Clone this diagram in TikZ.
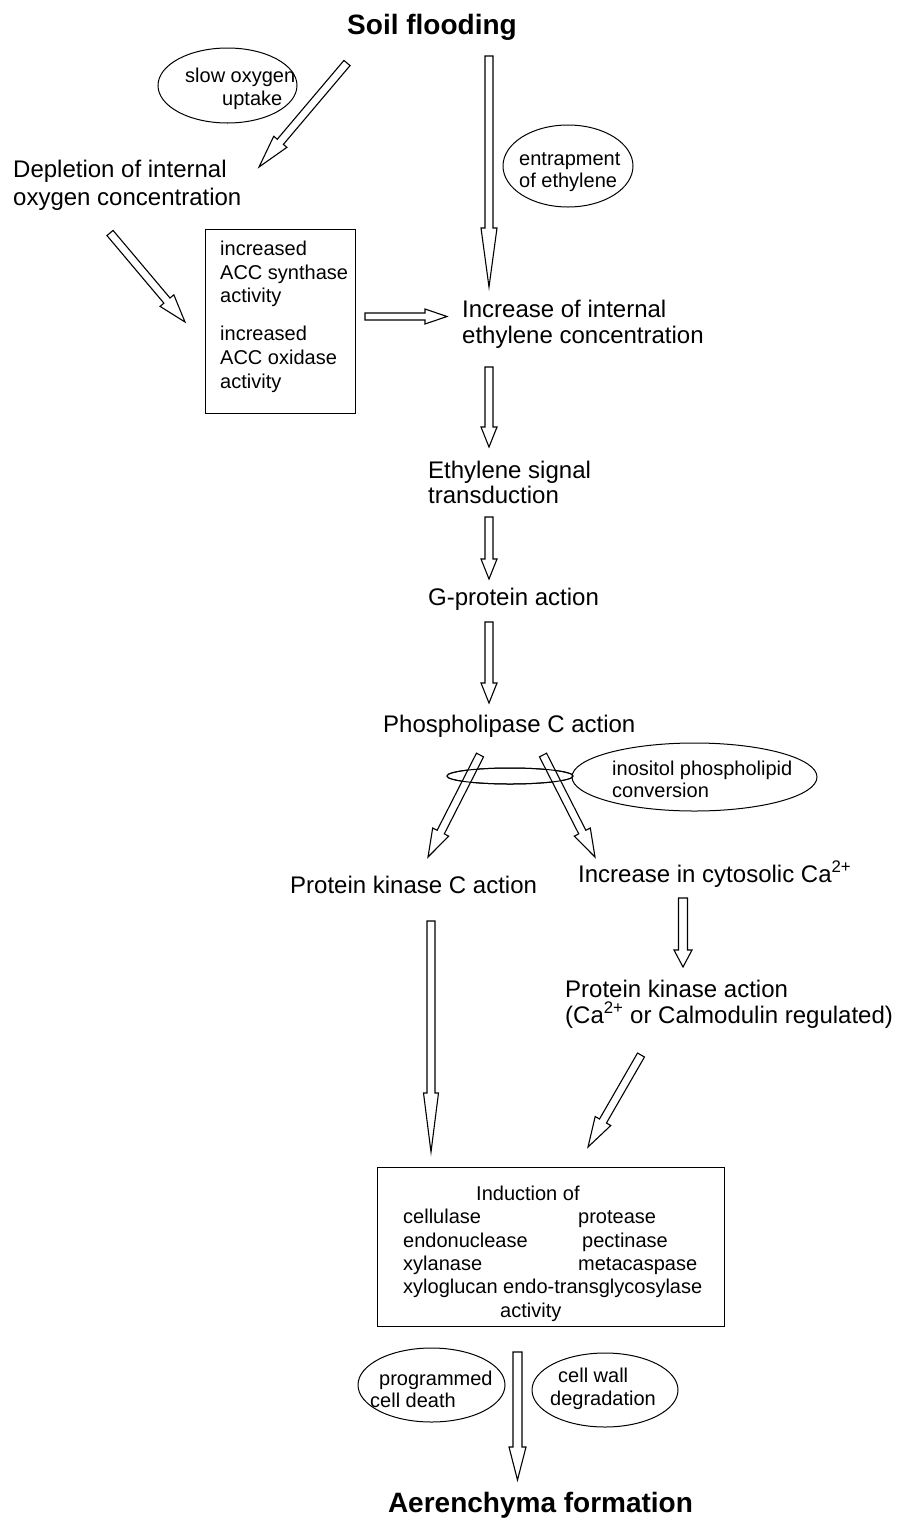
\documentclass[tikz,border=0pt]{standalone}
\usepackage{fontspec}
\setmainfont{Liberation Sans}
\usetikzlibrary{calc,shapes.geometric}
\newcommand\harrow[5]{%
  \coordinate (hA) at (#1); \coordinate (hB) at (#2);
  \coordinate (hH) at ($(hB)!#5!(hA)$);
  \draw[hollowarrow] ($(hA)!#3!90:(hB)$) -- ($(hH)!#3!-90:(hA)$) -- ($(hH)!#4!-90:(hA)$) -- (hB)
     -- ($(hH)!#4!90:(hA)$) -- ($(hH)!#3!90:(hA)$) -- ($(hA)!#3!-90:(hB)$) -- cycle;}
\tikzset{
  hollowarrow/.style={draw=black,fill=white,line width=1.1pt,line join=miter},
  big/.style={font=\fontsize{24}{28}\selectfont,inner sep=0pt,anchor=base west},
  small/.style={font=\fontsize{20}{23}\selectfont,inner sep=0pt,anchor=base west},
  title/.style={font=\bfseries\fontsize{28}{32}\selectfont,inner sep=0pt,anchor=base},
  oval/.style={draw,ellipse,line width=1pt,inner sep=0pt},
  frame/.style={draw,rectangle,line width=1pt,inner sep=0pt}
}
\begin{document}
\begin{tikzpicture}[x=1pt,y=-1pt]
\useasboundingbox (0,0) rectangle (899,1521);
% titles
\node[title] (soil) at (432,34) {Soil flooding};
\node[title] (aer) at (540.5,1512) {Aerenchyma formation};
% ellipses
\node[oval,minimum width=139,minimum height=75] (slowov) at (227.5,85.5) {};
\node[small] (slow1) at (185,82) {slow oxygen};
\node[small] (slow2) at (222,105) {uptake};
\node[oval,minimum width=130,minimum height=82] (entov) at (568,166) {};
\node[small] (ent1) at (519,165) {entrapment};
\node[small] (ent2) at (519,187) {of ethylene};
% depletion
\node[big] (dep1) at (13,177) {Depletion of internal};
\node[big] (dep2) at (13,205) {oxygen concentration};
% ACC box
\node[frame,minimum width=150,minimum height=184] (accbox) at (280,321) {};
\node[small] (acc1) at (220,255) {increased};
\node[small] (acc2) at (220,279) {ACC synthase};
\node[small] (acc3) at (220,302) {activity};
\node[small] (acc4) at (220,340) {increased};
\node[small] (acc5) at (220,364) {ACC oxidase};
\node[small] (acc6) at (220,388) {activity};
% main chain
\node[big] (inc1) at (462,317) {Increase of internal};
\node[big] (inc2) at (462,343) {ethylene concentration};
\node[big] (eth1) at (428,478) {Ethylene signal};
\node[big] (eth2) at (428,503) {transduction};
\node[big] (gprot) at (428,605) {G-protein action};
\node[big] (plc) at (383,732) {Phospholipase C action};
% inositol
\node[oval,minimum width=126,minimum height=16] (smallov) at (510,776) {};
\node[oval,minimum width=245,minimum height=68] (inoov) at (694.5,777) {};
\node[small] (ino1) at (612,775) {inositol phospholipid};
\node[small] (ino2) at (612,797) {conversion};
% branches
\node[big] (pkc) at (290,893) {Protein kinase C action};
\node[big] (ca) at (578,882) {Increase in cytosolic Ca\textsuperscript{2+}};
\node[big] (pk1) at (565,997) {Protein kinase action};
\node[big] (pk2) at (565,1023) {(Ca\textsuperscript{2+} or Calmodulin regulated)};
% induction box
\node[frame,minimum width=347,minimum height=159] (indbox) at (550.5,1246.5) {};
\node[small] (ind0) at (476,1200) {Induction of};
\node[small] (ind1) at (403,1223) {cellulase};
\node[small] (ind2) at (578,1223) {protease};
\node[small] (ind3) at (403,1247) {endonuclease};
\node[small] (ind4) at (582,1247) {pectinase};
\node[small] (ind5) at (403,1270) {xylanase};
\node[small] (ind6) at (578,1270) {metacaspase};
\node[small] (ind7) at (403,1293) {xyloglucan endo-transglycosylase};
\node[small] (ind8) at (500,1317) {activity};
% bottom ellipses
\node[oval,minimum width=147,minimum height=74] (pcdov) at (431.5,1385) {};
\node[small] (pcd1) at (379,1385) {programmed};
\node[small] (pcd2) at (370,1407) {cell death};
\node[oval,minimum width=146,minimum height=74] (cwov) at (605,1390) {};
\node[small] (cw1) at (558,1382) {cell wall};
\node[small] (cw2) at (550,1405) {degradation};
% arrow end coordinates
\coordinate (a1s) at (347,63);   \coordinate (a1e) at (259,167);
\coordinate (a2s) at (489,56);   \coordinate (a2e) at (489,287);
\coordinate (a3s) at (110,233);  \coordinate (a3e) at (185,322);
\coordinate (a4s) at (365,316.5);\coordinate (a4e) at (447,316.5);
\coordinate (a5s) at (489,367);  \coordinate (a5e) at (489,447);
\coordinate (a6s) at (489,517);  \coordinate (a6e) at (489,579);
\coordinate (a7s) at (489,622);  \coordinate (a7e) at (489,703);
\coordinate (a8s) at (480,755);  \coordinate (a8e) at (428,857);
\coordinate (a9s) at (543,755);  \coordinate (a9e) at (595,857);
\coordinate (b1s) at (431,921);  \coordinate (b1e) at (431,1152);
\coordinate (b2s) at (683,898);  \coordinate (b2e) at (683,967);
\coordinate (b3s) at (641,1055); \coordinate (b3e) at (588,1147);
\coordinate (b4s) at (517.5,1352); \coordinate (b4e) at (517.5,1480);
\harrow{a1s}{a1e}{4pt}{8.6pt}{33pt}
\harrow{a2s}{a2e}{4pt}{8pt}{59pt}
\harrow{a3s}{a3e}{4pt}{9pt}{28pt}
\harrow{a4s}{a4e}{3.5pt}{7.5pt}{22pt}
\harrow{a5s}{a5e}{4pt}{8pt}{20pt}
\harrow{a6s}{a6e}{4pt}{8pt}{20pt}
\harrow{a7s}{a7e}{4pt}{8pt}{20pt}
\harrow{a8s}{a8e}{4pt}{9pt}{28pt}
\harrow{a9s}{a9e}{4pt}{9pt}{28pt}
\harrow{b1s}{b1e}{4pt}{7.5pt}{59pt}
\harrow{b2s}{b2e}{4.5pt}{9pt}{17pt}
\harrow{b3s}{b3e}{4pt}{9pt}{30pt}
\harrow{b4s}{b4e}{4.5pt}{8.5pt}{33pt}
% redraw small ellipse outline over the arrows
\draw[line width=1pt] (smallov.center) ellipse [x radius=63, y radius=8];
\end{tikzpicture}
\end{document}
